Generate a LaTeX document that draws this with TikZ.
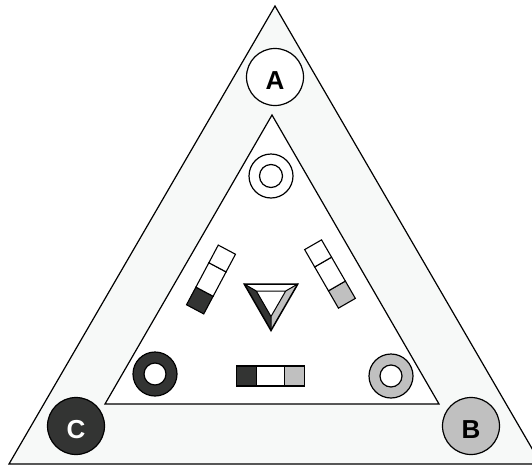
\documentclass[tikz,border=0pt]{standalone}
\usepackage{fontspec}
\setmainfont{Liberation Sans}
\usetikzlibrary{calc}
\definecolor{padink}{RGB}{51,52,51}
\definecolor{padgrey}{RGB}{192,192,192}
\definecolor{padband}{RGB}{247,249,248}

\begin{document}
\begin{tikzpicture}[x=1pt, y=-1pt, line width=1.2pt,
    corner/.style={circle, draw, line width=1.2pt, minimum size=57pt, inner sep=0pt, text height=24pt, text depth=0pt, font=\fontsize{26}{26}\selectfont\bfseries},
    cell/.style={draw, line width=1.1pt},
    ring/.style={draw, line width=1.2pt}
  ]
  \useasboundingbox (0,0) rectangle (532,466);

  % outer band and inner field
  \draw[fill=padband] (275,6) -- (9,464) -- (541,464) -- cycle;
  \draw[fill=white] (272,115) -- (105,404) -- (439,404) -- cycle;

  % corner pads
  \node[corner, fill=white] (padA) at (275,77) {A};
  \node[corner, fill=padgrey] (padB) at (471,426) {B};
  \node[corner, fill=padink, text=white] (padC) at (76,426) {C};

  % rings
  \draw[ring, fill=white] (271,176) circle (22);
  \draw[ring, fill=white] (271,176) circle (11.5);
  \draw[ring, fill=padink] (155,374) circle (22);
  \draw[ring, fill=white] (155,374) circle (11);
  \draw[ring, fill=padgrey] (391,376) circle (22);
  \draw[ring, fill=white] (391,376) circle (11);

  % bars
  \begin{scope}[shift={(211,279.5)}, rotate=62]
    \draw[cell, fill=padink] (-33.8,-9.75) rectangle (-13.8,9.75);
    \draw[cell, fill=white] (-13.8,-9.75) rectangle (13.8,9.75);
    \draw[cell, fill=white] (13.8,-9.75) rectangle (33.8,9.75);
  \end{scope}
  \begin{scope}[shift={(330,274)}, rotate=120]
    \draw[cell, fill=padgrey] (-33.8,-9.75) rectangle (-13.8,9.75);
    \draw[cell, fill=white] (-13.8,-9.75) rectangle (13.8,9.75);
    \draw[cell, fill=white] (13.8,-9.75) rectangle (33.8,9.75);
  \end{scope}
  \draw[cell, fill=padink] (236.7,366) rectangle (256.7,386);
  \draw[cell, fill=white] (256.7,366) rectangle (284.3,386);
  \draw[cell, fill=padgrey] (284.3,366) rectangle (304.3,386);

  % pyramid
  \coordinate (pyrTL) at (244.2,284);
  \coordinate (pyrTR) at (297.8,284);
  \coordinate (pyrB) at (271,330.5);
  \coordinate (topTL) at (256.3,291);
  \coordinate (topTR) at (285.7,291);
  \coordinate (topB) at (271,316.5);
  \fill[white] (pyrTL) -- (pyrTR) -- (topTR) -- (topTL) -- cycle;
  \fill[padink] (pyrTL) -- (topTL) -- (topB) -- (pyrB) -- cycle;
  \fill[padgrey] (pyrTR) -- (pyrB) -- (topB) -- (topTR) -- cycle;
  \draw[line width=1pt] (topTL) -- (topTR) -- (topB) -- cycle;
  \draw[line width=1pt] (pyrTL) -- (topTL) (pyrTR) -- (topTR) (pyrB) -- (topB);
  \draw[line width=1.5pt] (pyrTL) -- (pyrTR) -- (pyrB) -- cycle;
\end{tikzpicture}
\end{document}
